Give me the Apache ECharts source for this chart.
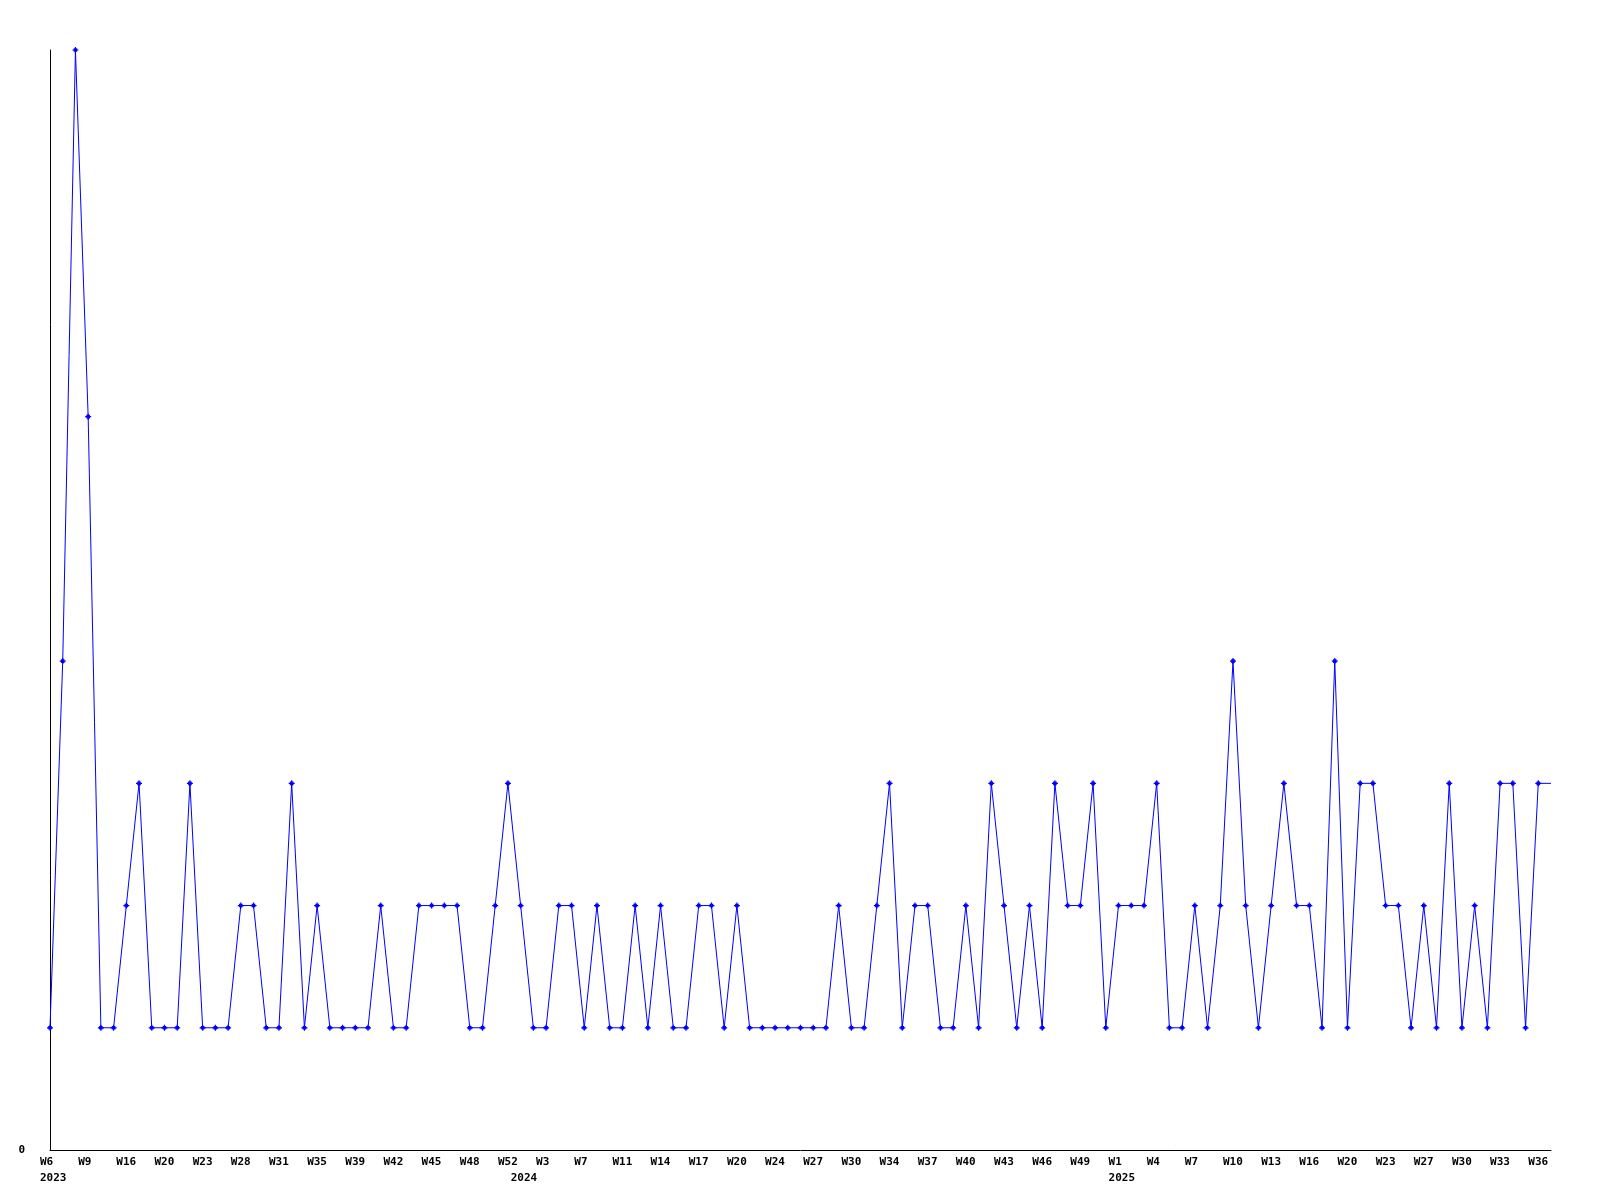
<!DOCTYPE html>
<html>
<head>
<meta charset="utf-8">
<script src="https://cdn.jsdelivr.net/npm/echarts@6/dist/echarts.min.js"></script>
<style>
html,body{margin:0;padding:0;background:#fff;}
#chart{width:1600px;height:1200px;}
</style>
</head>
<body>
<div id="chart"></div>
<script>
// ISO year of each category
const years = [
  2023,2023,2023,2023,2023,2023,2023,2023,2023,2023,2023,2023,2023,2023,2023,2023,2023,2023,2023,2023,
  2023,2023,2023,2023,2023,2023,2023,2023,2023,2023,2023,2023,2023,2023,2023,2023,2023,
  2024,2024,2024,2024,2024,2024,2024,2024,2024,2024,2024,2024,2024,2024,2024,2024,2024,2024,2024,2024,
  2024,2024,2024,2024,2024,2024,2024,2024,2024,2024,2024,2024,2024,2024,2024,2024,2024,2024,2024,2024,
  2024,2024,2024,2024,2024,2024,2024,
  2025,2025,2025,2025,2025,2025,2025,2025,2025,2025,2025,2025,2025,2025,2025,2025,2025,2025,2025,2025,
  2025,2025,2025,2025,2025,2025,2025,2025,2025,2025,2025,2025,2025,2025,2025
];
// ISO week of each category
const weeks = [
  6,7,8,9,12,14,16,17,18,20,21,22,23,25,26,28,29,30,31,32,
  33,35,36,37,39,40,41,42,43,44,45,46,47,48,49,50,52,
  1,2,3,4,5,7,8,9,11,12,13,14,15,16,17,18,19,20,21,
  22,24,25,26,27,28,29,30,31,32,34,35,36,37,38,39,40,41,42,43,
  44,45,46,47,48,49,51,52,
  1,2,3,4,5,6,7,8,9,10,11,12,13,14,15,16,17,18,20,21,
  22,23,24,25,27,28,29,30,31,32,33,34,35,36,37
];
// values per week
const counts = [
  1,4,9,6,1,1,2,3,1,1,1,3,1,1,1,2,2,1,1,3,
  1,2,1,1,1,1,2,1,1,2,2,2,2,1,1,2,3,
  2,1,1,2,2,1,2,1,1,2,1,2,1,1,2,2,1,2,1,
  1,1,1,1,1,1,2,1,1,2,3,1,2,2,1,1,2,1,3,2,
  1,2,1,3,2,2,3,1,
  2,2,2,3,1,1,2,1,2,4,2,1,2,3,2,2,1,4,1,3,
  3,2,2,1,2,1,3,1,2,1,3,3,1,3,3
];

const categories = weeks.map((w, i) => years[i] + '-W' + w);

const chart = echarts.init(document.getElementById('chart'), null, {renderer: 'canvas'});
const labelFont = {fontFamily: 'DejaVu Sans Mono', fontWeight: 'bold', fontSize: 11, color: '#000'};
const plus = 'path://M2,0H3V1H4V2H5V3H4V4H3V5H2V4H1V3H0V2H1V1H2Z';

chart.setOption({
  animation: false,
  backgroundColor: '#fff',
  grid: {left: 50, right: 49, top: 50, bottom: 50, containLabel: false},
  xAxis: [
    {
      type: 'category',
      data: categories,
      boundaryGap: false,
      position: 'bottom',
      axisLine: {show: true, lineStyle: {color: '#000', width: 1}},
      axisTick: {show: false},
      splitLine: {show: false},
      axisLabel: Object.assign({
        interval: 2,
        margin: 7,
        align: 'left',
        padding: [0, 0, 0, -10],
        formatter: v => 'W' + v.split('-W')[1]
      }, labelFont)
    },
    {
      type: 'category',
      data: categories,
      boundaryGap: false,
      position: 'bottom',
      offset: 16,
      axisLine: {show: false},
      axisTick: {show: false},
      splitLine: {show: false},
      axisLabel: Object.assign({
        interval: 0,
        margin: 7,
        align: 'left',
        padding: [0, 0, 0, -10],
        formatter: (v, i) => (i === 0 || years[i] !== years[i - 1]) ? String(years[i]) : ''
      }, labelFont)
    }
  ],
  yAxis: {
    type: 'value',
    min: 0,
    max: 9,
    interval: 9,
    axisLine: {show: true, lineStyle: {color: '#000', width: 1}},
    axisTick: {show: false},
    splitLine: {show: false},
    axisLabel: Object.assign({
      margin: 25,
      formatter: v => v === 0 ? '0' : ''
    }, labelFont)
  },
  series: [{
    type: 'line',
    xAxisIndex: 0,
    data: counts.map((v, i) => i === counts.length - 1 ? {value: v, symbol: 'none'} : v),
    showAllSymbol: true,
    symbol: plus,
    symbolSize: 6,
    itemStyle: {color: '#0000ff'},
    lineStyle: {color: '#0000ff', width: 1},
    clip: false
  }]
});
</script>
</body>
</html>
